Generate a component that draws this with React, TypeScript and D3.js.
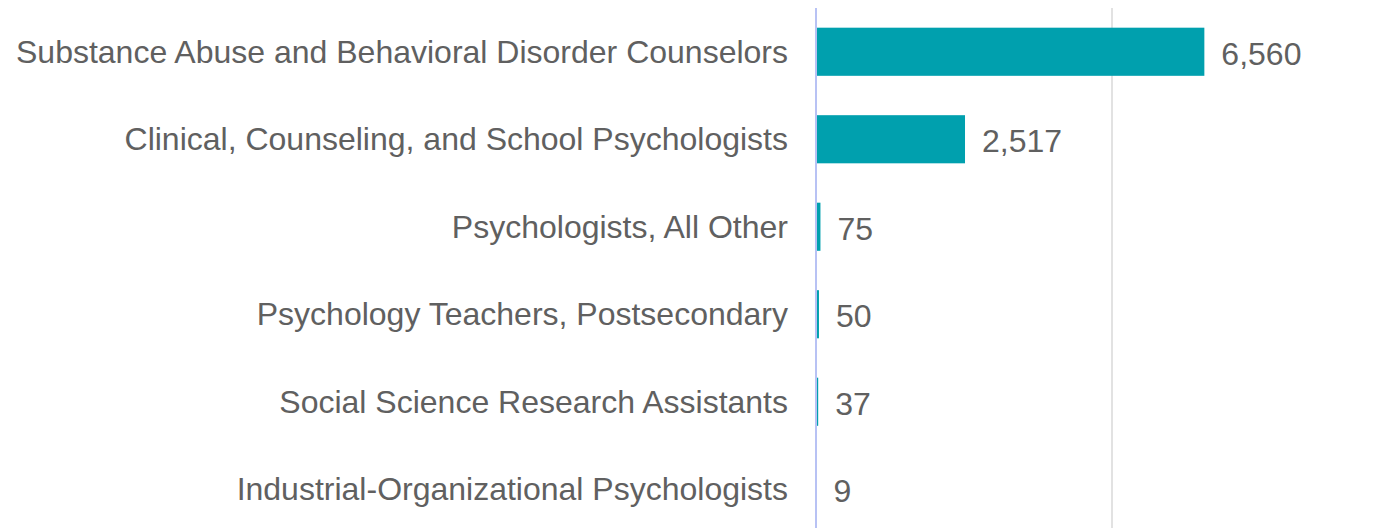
import React, { useEffect, useRef } from "react";
import * as d3 from "d3";

const categories = [
  "Substance Abuse and Behavioral Disorder Counselors",
  "Clinical, Counseling, and School Psychologists",
  "Psychologists, All Other",
  "Psychology Teachers, Postsecondary",
  "Social Science Research Assistants",
  "Industrial-Organizational Psychologists",
];
const values = [6560, 2517, 75, 50, 37, 9];
const gridTicks = [0, 5000, 10000];

const W = 1391;
const H = 528;

export default function App() {
  const ref = useRef<SVGSVGElement>(null);

  useEffect(() => {
    const svg = d3.select(ref.current);
    svg.selectAll("*").remove();

    const margin = { top: 8, left: 816 };
    const x = d3.scaleLinear().domain([0, 10000]).range([margin.left, margin.left + 592]);
    const y = d3
      .scaleBand()
      .domain(categories)
      .range([margin.top, margin.top + 87.5 * categories.length])
      .paddingInner(0.45)
      .paddingOuter(0.225);

    // gridlines
    svg
      .append("g")
      .selectAll("line")
      .data(gridTicks.slice(1))
      .enter()
      .append("line")
      .attr("x1", d => x(d))
      .attr("x2", d => x(d))
      .attr("y1", margin.top)
      .attr("y2", H)
      .attr("stroke", "#d9d9d9")
      .attr("stroke-width", 1.5);

    const data = categories.map((c, i) => ({ c, v: values[i] }));

    svg
      .append("g")
      .selectAll("rect")
      .data(data)
      .enter()
      .append("rect")
      .attr("x", x(0))
      .attr("y", d => y(d.c)!)
      .attr("width", d => x(d.v) - x(0))
      .attr("height", y.bandwidth())
      .attr("fill", "#00a0ae");

    // axis line
    svg
      .append("line")
      .attr("x1", x(0))
      .attr("x2", x(0))
      .attr("y1", margin.top)
      .attr("y2", H)
      .attr("stroke", "#b8c2f4")
      .attr("stroke-width", 2);

    const font = "'Liberation Sans', Arial, sans-serif";

    svg
      .append("g")
      .selectAll("text")
      .data(data)
      .enter()
      .append("text")
      .attr("x", x(0) - 28)
      .attr("y", d => y(d.c)! + y.bandwidth() / 2)
      .attr("dy", "0.35em")
      .attr("text-anchor", "end")
      .attr("fill", "#606060")
      .style("font-family", font)
      .style("font-size", "32px")
      .text(d => d.c);

    svg
      .append("g")
      .selectAll("text")
      .data(data)
      .enter()
      .append("text")
      .attr("x", d => x(d.v) + 17)
      .attr("y", d => y(d.c)! + y.bandwidth() / 2 + 2)
      .attr("dy", "0.35em")
      .attr("fill", "#606060")
      .style("font-family", font)
      .style("font-size", "32px")
      .text(d => d3.format(",")(d.v));
  }, []);

  return (
    <svg
      ref={ref}
      width={W}
      height={H}
      style={{ position: "absolute", left: 0, top: 0, background: "#fff" }}
    />
  );
}
